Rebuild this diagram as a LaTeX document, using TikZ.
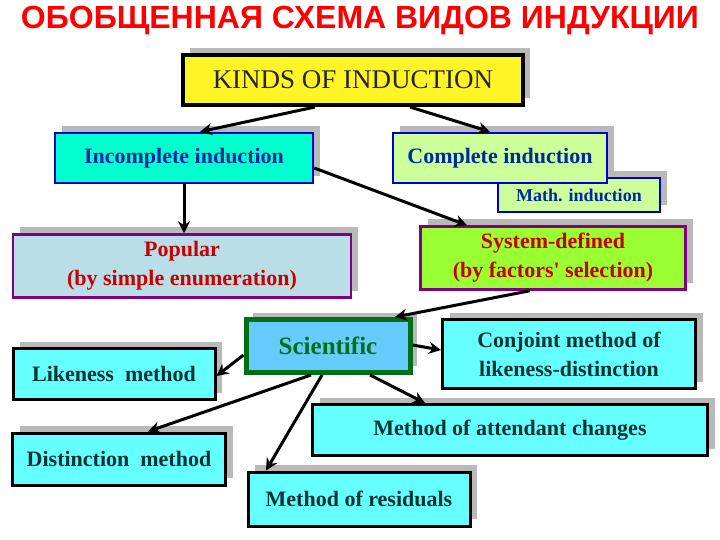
\documentclass[tikz,border=0pt]{standalone}
\usepackage{fontspec}
\setmainfont{Liberation Serif}
\newfontfamily\titlefont{Liberation Sans}
\usetikzlibrary{shadows,arrows.meta,calc}
\definecolor{cyanb}{RGB}{102,255,255}
\definecolor{tealtxt}{RGB}{0,51,51}
\definecolor{incfill}{RGB}{0,255,204}
\definecolor{compfill}{RGB}{204,255,153}
\definecolor{popfill}{RGB}{185,222,232}
\definecolor{sysfill}{RGB}{153,255,51}
\definecolor{scifill}{RGB}{102,204,255}
\definecolor{dgreen}{RGB}{0,110,20}
\definecolor{bluetxt}{RGB}{0,40,160}
\definecolor{purp}{RGB}{128,0,128}
\definecolor{redtxt}{RGB}{200,0,0}
\begin{document}
\begin{tikzpicture}[x=1pt,y=-1pt,
  box/.style={rectangle, inner sep=0pt, align=center, font=\bfseries\fontsize{22}{29}\selectfont,
    drop shadow={shadow xshift=7pt, shadow yshift=7pt, fill=gray!55, opacity=1}},
  kbox/.style={box, fill=yellow!85!white, draw=black, line width=4pt, text=black!85, font=\fontsize{27}{30}\selectfont},
  bbox/.style={box, draw=blue!80!black, line width=2.5pt, text=bluetxt},
  pbox/.style={box, draw=purp, line width=2.5pt, text=redtxt},
  cbox/.style={box, fill=cyanb, draw=black, line width=3pt, text=tealtxt},
  arr/.style={line width=3pt, -{Stealth[length=12pt,width=12pt]}}]
\useasboundingbox (0,0) rectangle (720,540);
\node[font=\titlefont\bfseries\fontsize{32}{34}\selectfont, text=red] (title) at (360,21) {ОБОБЩЕННАЯ СХЕМА ВИДОВ ИНДУКЦИИ};
\node[kbox, minimum width=340, minimum height=50] (k) at (353,80) {KINDS OF INDUCTION};
\node[bbox, fill=incfill, minimum width=258, minimum height=50] (inc) at (184,158) {Incomplete induction};
\node[bbox, fill=compfill, minimum width=162, minimum height=34, font=\bfseries\fontsize{18}{20}\selectfont] (math) at (579,195) {Math. induction};
\node[bbox, fill=compfill, minimum width=214, minimum height=50] (comp) at (500,158) {Complete induction};
\node[pbox, fill=popfill, minimum width=338, minimum height=63] (pop) at (182,266) {Popular\\(by simple enumeration)};
\node[pbox, fill=sysfill, minimum width=265, minimum height=63] (sys) at (553,258) {System-defined\\(by factors\textquotesingle\ selection)};
\node[box, fill=scifill, draw=dgreen, line width=5pt, text=dgreen, font=\bfseries\fontsize{25}{28}\selectfont, minimum width=164, minimum height=53] (sci) at (328,346) {Scientific};
\node[cbox, minimum width=202, minimum height=51] (like) at (114,374) {Likeness\ \ method};
\node[cbox, minimum width=253, minimum height=69] (conj) at (569,354) {Conjoint method of\\likeness-distinction};
\node[cbox, minimum width=395, minimum height=51] (att) at (510,430) {Method of attendant changes};
\node[cbox, minimum width=213, minimum height=52] (dist) at (119,459) {Distinction\ \ method};
\node[cbox, minimum width=222, minimum height=54] (res) at (359,499) {Method of residuals};
\draw[arr] ([xshift=-38pt]k.south) -- ([xshift=16pt]inc.north);
\draw[arr] ([xshift=57pt]k.south) -- ([xshift=-10pt]comp.north);
\draw[arr] ([yshift=-10pt]inc.east) -- ([xshift=-86pt]sys.north);
\draw[arr] (inc.south) -- (inc.south |- pop.north);
\draw[arr] ([xshift=-23pt]sys.south) -- ([xshift=67pt]sci.north);
\draw[arr] ([yshift=-9pt]sci.west) -- ([yshift=-2pt]like.east);
\draw[arr] ([yshift=1pt]sci.east) -- ([yshift=4pt]conj.west);
\draw[arr] ([xshift=-17pt]sci.south) -- ([xshift=29pt]dist.north);
\draw[arr] ([xshift=-6pt]sci.south) -- ([xshift=-93pt]res.north);
\draw[arr] ([xshift=42pt]sci.south) -- ([xshift=-85pt]att.north);
\end{tikzpicture}
\end{document}
